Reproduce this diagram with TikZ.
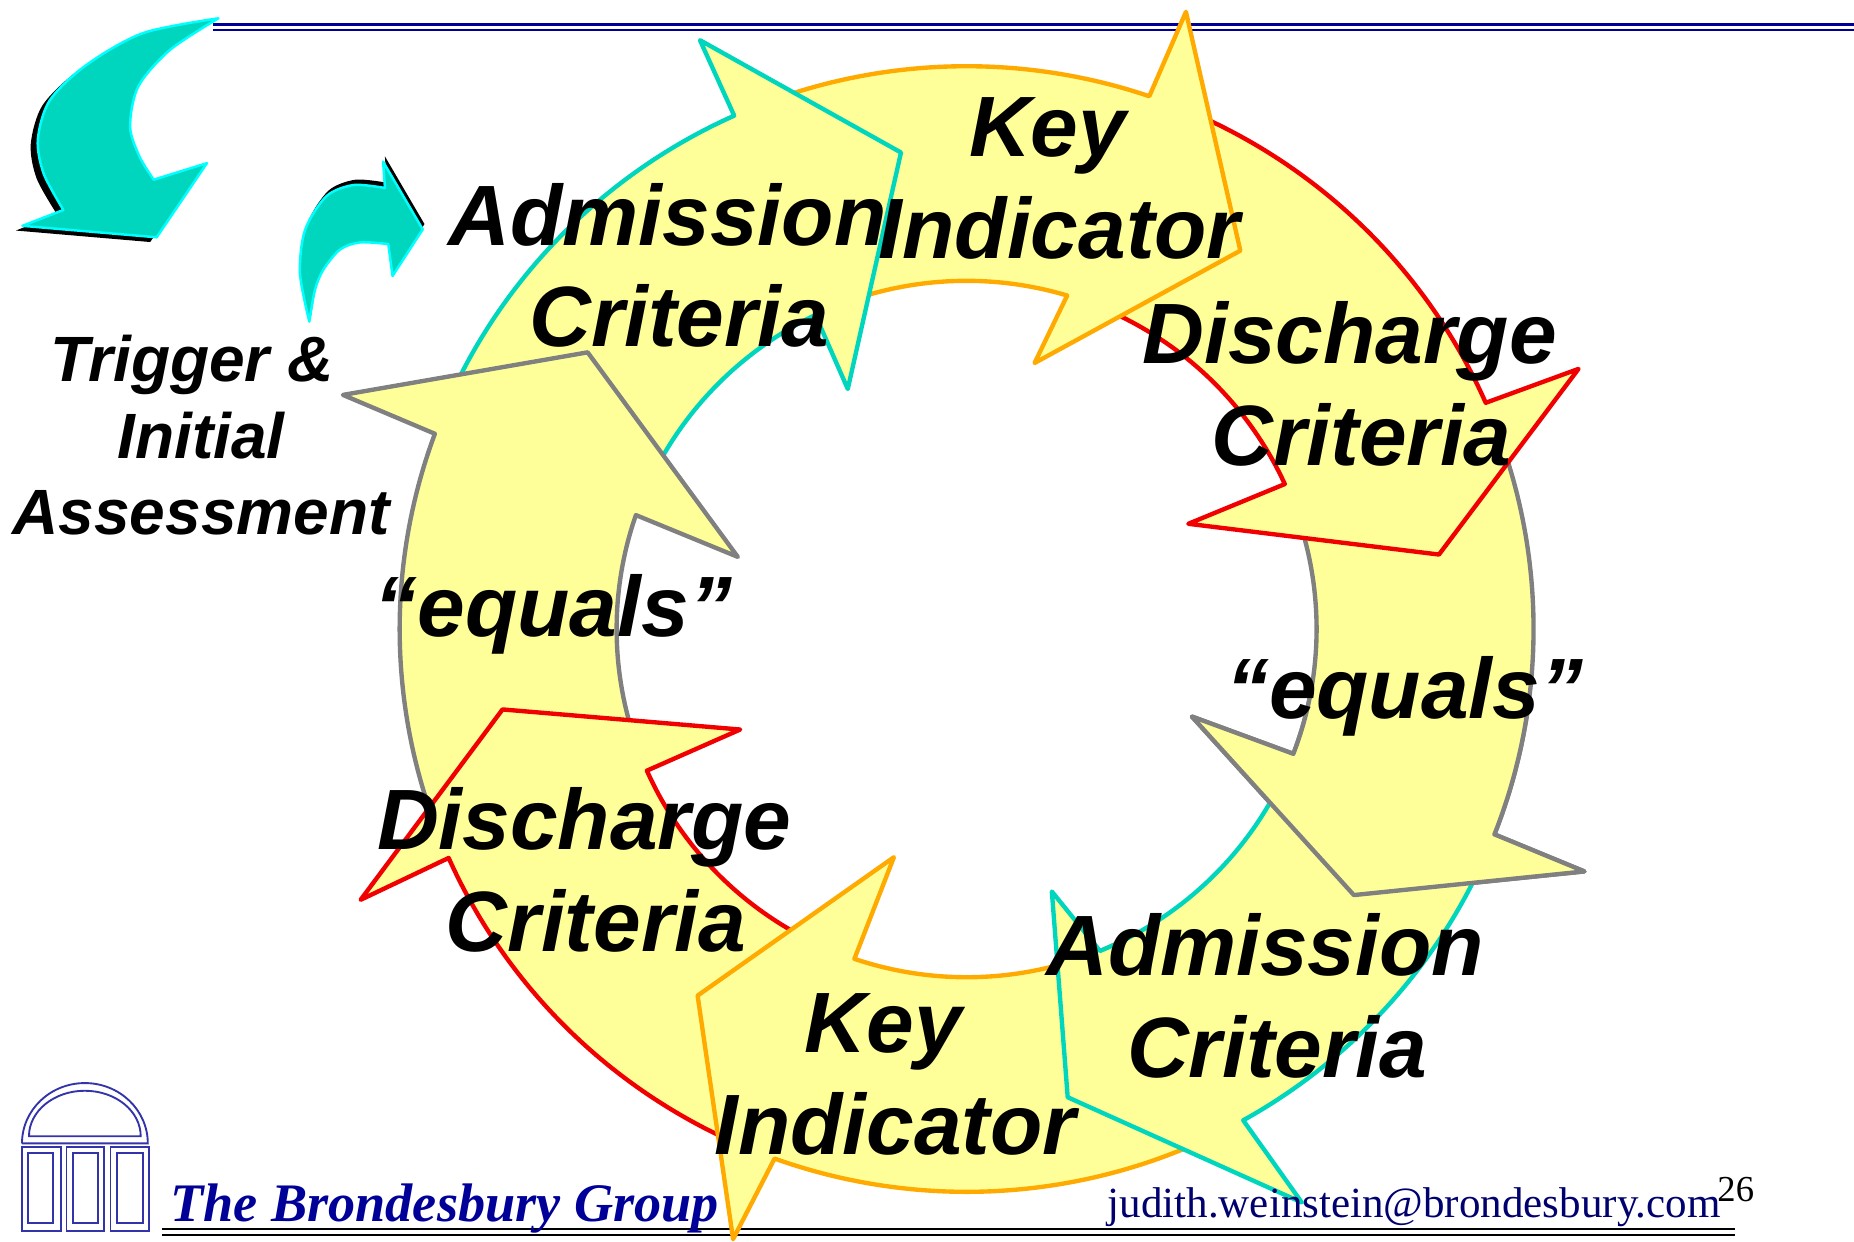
\documentclass[tikz,border=0pt]{standalone}
\usepackage{fontspec}
\setmainfont{Liberation Serif}
\setsansfont{Liberation Sans}
\usepackage{tikz}
\usetikzlibrary{calc}

\definecolor{pale}{RGB}{255,255,153}
\definecolor{tealfill}{RGB}{0,214,190}
\definecolor{cyanline}{RGB}{0,255,255}
\definecolor{tealline}{RGB}{0,214,190}
\definecolor{goldline}{RGB}{255,170,0}
\definecolor{redline}{RGB}{240,0,0}
\definecolor{grayline}{RGB}{128,128,128}
\definecolor{navy}{RGB}{0,0,153}
\definecolor{mailblue}{RGB}{0,0,110}
\definecolor{logoblue}{RGB}{51,51,170}

\tikzset{
  cyclearrow/.style={draw=#1,fill=pale,line width=1.05pt,line join=round},
  tealarrow/.style={draw=cyanline,fill=tealfill,line width=0.6pt,line join=round},
  bigword/.style={font=\sffamily\bfseries\itshape\fontsize{20.6}{24.5}\selectfont,align=center,inner sep=0pt},
  sideword/.style={font=\sffamily\bfseries\itshape\fontsize{15.4}{18.4}\selectfont,align=center,inner sep=0pt},
  rulenavy/.style={draw=navy,line width=0.65pt},
  ruleblack/.style={draw=black,line width=0.65pt},
  logoline/.style={draw=logoblue,line width=0.45pt}
}

% tail angle, notch angle, head corners, inner notch angle
\newcommand{\ringarrow}[5]{%
  \draw [cyclearrow=#1] ($(hub)+(#2:479.5 and 476)$)
    arc [start angle=#2,end angle=#3,x radius=479.5,y radius=476]
    #4 -- ($(hub)+(#5:296 and 294.5)$)
    arc [start angle=#5,end angle=#2,x radius=296,y radius=294.5] -- cycle;
}
\newcommand{\twolines}[2]{#1\hspace*{0.1cm}\\\hspace*{0.1cm}#2}

\begin{document}
\begin{tikzpicture}[x=0.01cm,y=-0.01cm]
  \useasboundingbox (0,0) rectangle (1568,1049.6);
  \coordinate (hub) at (817.5,532);

  % rules
  \coordinate (ta) at (180,20.5);
  \coordinate (tb) at (1568,20.5);
  \coordinate (tc) at (180,25.5);
  \coordinate (td) at (1568,25.5);
  \draw [rulenavy] (ta) -- (tb);
  \draw [rulenavy] (tc) -- (td);

  \coordinate (ba) at (137,1039.5);
  \coordinate (bb) at (1467,1039.5);
  \coordinate (bc) at (137,1044.5);
  \coordinate (bd) at (1467,1044.5);
  \draw [ruleblack] (ba) -- (bb);
  \draw [ruleblack] (bc) -- (bd);

  % ring, gray right first and its head again at the end
  \ringarrow{grayline}{-22}{21.4}{-- (1340,737) -- (1145,757) -- (1008,606)}{21}
  \ringarrow{redline}{291}{336.3}{-- (1335,312) -- (1217,469) -- (1005,443)}{335.4}
  \ringarrow{goldline}{248}{288.8}{-- (1003,10) -- (1049,212) -- (875,307)}{286.7}
  \ringarrow{tealline}{205}{245.8}{-- (592,34) -- (762,129) -- (717,329)}{244.4}
  \ringarrow{grayline}{158}{200.3}{-- (290,334) -- (497,298) -- (624,471)}{199.1}
  \ringarrow{redline}{112}{156}{-- (305,761) -- (425,600) -- (626,617)}{156}
  \ringarrow{goldline}{64}{109.8}{-- (620,1048) -- (590,842) -- (756,725)}{108.7}
  \ringarrow{tealline}{24}{60.8}{-- (1101,1017) -- (903,928) -- (889.6,754)}{67.6}
  \begin{scope}
    \clip (980,590) rectangle (1400,800);
    \ringarrow{grayline}{-22}{21.4}{-- (1340,737) -- (1145,757) -- (1008,606)}{21}
  \end{scope}

  % teal arrows
  \fill [black] plot [smooth] coordinates {(179,19)(115,32)(67,59)(36,89)(26,122)(31,151)(48,181)} -- (13.5,195) -- (127,204.7) -- (170,142) -- plot [smooth] coordinates {(125,156)(112,136)(104,111)(111,77)(138,46)(179,19)} -- cycle;
  \draw [tealarrow] plot [smooth] coordinates {(184.7,15.5)(121,28)(73,55)(42,85)(32,118)(37,147)(53.6,177.6)} -- (19,191) -- (132.5,200.7) -- (175,138) -- plot [smooth] coordinates {(130,152)(118,132.5)(110,107)(117,73)(144,42)(184.7,15.5)} -- cycle;

  \fill [black] plot [smooth] coordinates {(263,267.5)(255.2,226.5)(259.5,190)(277.5,161.5)(300.5,152)(327.1,154.5)} -- (325.5,132.2) -- (359,189.5) -- (333.5,228.9) -- plot [smooth] coordinates {(329.9,201.9)(306,200.5)(289.1,206.5)(275,223.5)(267.9,240.5)(263,267.5)} -- cycle;
  \draw [tealarrow] plot [smooth] coordinates {(261.6,272)(253.7,231)(258,194.5)(276,166)(299,156.5)(325.6,159)} -- (324,136.7) -- (357.5,194) -- (332,233.4) -- plot [smooth] coordinates {(328.4,206.4)(304.5,205)(287.6,211)(273.5,228)(266.4,245)(261.6,272)} -- cycle;

  % logo
  \draw [logoline] (18.6,967) -- (125,967) arc [start angle=0,end angle=-180,x radius=53.2,y radius=51] -- cycle;
  \draw [logoline] (24.5,961) -- (119,961) arc [start angle=0,end angle=-180,x radius=47.25,y radius=38.5] -- cycle;
  \foreach \xa/\xb/\xc/\xd in {18.6/51.3/23.8/45,56.2/88/61.5/82.8,93.5/126/99/121} {
    \draw [logoline] (\xa,970) rectangle (\xb,1041);
    \draw [logoline] (\xc,975.5) rectangle (\xd,1034);
  }

  % labels
  \node [bigword] (adm1) at (569.5,224.5) {\twolines{Admission}{Criteria}};
  \node [bigword] (key1) at (891,151) {\twolines{Key}{Indicator}};
  \node [bigword] (dis1) at (1146.5,325) {\twolines{Discharge}{Criteria}};
  \node [bigword,anchor=base] (equ1) at (1188,608) {“equals”};
  \node [bigword] (adm2) at (1075,842) {\twolines{Admission}{Criteria}};
  \node [bigword] (key2) at (752,909) {\twolines{Key}{Indicator}};
  \node [bigword] (dis2) at (499,736) {\twolines{Discharge}{Criteria}};
  \node [bigword,anchor=base] (equ2) at (468,538) {“equals”};
  \node [sideword] (trig) at (170,368) {Trigger \&\hspace*{0.15cm}\\Initial\\Assessment};

  \node [anchor=base,inner sep=0pt,text=navy,font=\rmfamily\bfseries\itshape\fontsize{13.05}{15}\selectfont] (brand) at (376,1033) {The Brondesbury Group};
  \node [anchor=base,inner sep=0pt,text=mailblue,font=\rmfamily\fontsize{10.35}{12}\selectfont] (mail) at (1196,1029.5) {judith.weinstein@brondesbury.com};
  \node [anchor=base,inner sep=0pt,text=black,font=\rmfamily\fontsize{8.8}{10}\selectfont] (page) at (1468,1016) {26};
\end{tikzpicture}
\end{document}
